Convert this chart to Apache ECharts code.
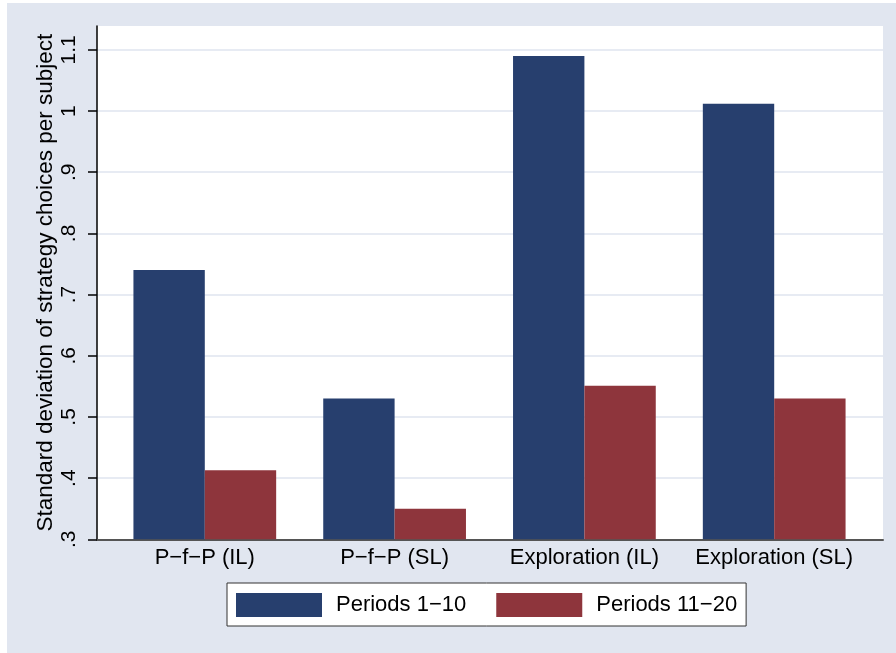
<!DOCTYPE html>
<html>
<head>
<meta charset="utf-8">
<script src="https://cdn.jsdelivr.net/npm/echarts@6/dist/echarts.min.js"></script>
<style>
  html, body { margin: 0; padding: 0; background: #ffffff; }
  #bg { position: absolute; left: 7px; top: 3px; width: 889px; height: 650px; background: #e1e6f0; }
  #chart { position: absolute; left: 0; top: 0; width: 896px; height: 653px; }
</style>
</head>
<body>
<div id="bg"></div>
<div id="chart"></div>
<script>
const categories = ['P\u2212f\u2212P (IL)', 'P\u2212f\u2212P (SL)', 'Exploration (IL)', 'Exploration (SL)'];
const seriesNames = ['Periods 1\u221210', 'Periods 11\u221220'];
const periods1to10 = [0.74, 0.53, 1.09, 1.012];
const periods11to20 = [0.413, 0.35, 0.551, 0.53];
const yTicks = [0.3, 0.4, 0.5, 0.6, 0.7, 0.8, 0.9, 1.0, 1.1];
const yTickLabels = ['.3', '.4', '.5', '.6', '.7', '.8', '.9', '1', '1.1'];
const yAxisTitle = 'Standard deviation of strategy choices per subject';

const FONT = "'Liberation Sans', Arial, Helvetica, sans-serif";
const yMin = 0.3, yMax = 1.139;

const chart = echarts.init(document.getElementById('chart'), null, { renderer: 'canvas' });
chart.setOption({
  backgroundColor: 'transparent',
  animation: false,
  textStyle: { fontFamily: FONT, color: '#000' },
  grid: [
    { left: 97, right: 13, top: 26, bottom: 113.7, show: true, backgroundColor: '#ffffff', borderWidth: 0 },
    { left: 109.9, right: 26.9, top: 26, bottom: 113.7, show: false }
  ],
  xAxis: [
    {
      gridIndex: 0, type: 'value', min: 0, max: 1,
      axisLine: { show: true, onZero: false, lineStyle: { color: '#555', width: 2 } },
      axisTick: { show: false }, axisLabel: { show: false }, splitLine: { show: false }
    },
    {
      gridIndex: 1, type: 'category', data: categories,
      axisLine: { show: false }, axisTick: { show: false },
      axisLabel: { interval: 0, fontFamily: FONT, fontSize: 22, color: '#000', margin: 8 }
    }
  ],
  yAxis: [
    {
      gridIndex: 0, type: 'value', min: yMin, max: yMax, interval: 0.1,
      name: yAxisTitle, nameLocation: 'middle', nameRotate: 90, nameGap: 40,
      nameMoveOverlap: false,
      nameTextStyle: { fontFamily: FONT, fontSize: 22.5, color: '#000' },
      axisLine: { show: true, lineStyle: { color: '#000', width: 1.5 } },
      axisTick: { show: true, length: 9, customValues: yTicks, lineStyle: { color: '#000', width: 1.5 } },
      axisLabel: {
        rotate: 90, fontFamily: FONT, fontSize: 21, color: '#000', margin: 17,
        customValues: yTicks,
        formatter: function (v) {
          const i = yTicks.findIndex(t => Math.abs(t - v) < 1e-6);
          return i >= 0 ? yTickLabels[i] : '';
        }
      },
      splitLine: { show: true, lineStyle: { color: '#dfe4ef', width: 1.5 } }
    },
    {
      gridIndex: 1, type: 'value', min: yMin, max: yMax, show: false,
      splitLine: { show: false }
    }
  ],
  legend: {
    data: seriesNames,
    left: 227, top: 583,
    orient: 'horizontal',
    icon: 'rect',
    itemWidth: 86, itemHeight: 24, itemGap: 30,
    padding: [10, 9, 9, 9],
    backgroundColor: '#ffffff', borderColor: '#333', borderWidth: 1,
    textStyle: { fontFamily: FONT, fontSize: 22, color: '#000', padding: [0, 0, 0, 9] }
  },
  series: [
    {
      name: seriesNames[0], type: 'bar', xAxisIndex: 1, yAxisIndex: 1,
      data: periods1to10, barGap: '0%', barCategoryGap: '24.8%',
      itemStyle: { color: '#273f6e' }
    },
    {
      name: seriesNames[1], type: 'bar', xAxisIndex: 1, yAxisIndex: 1,
      data: periods11to20, barGap: '0%', barCategoryGap: '24.8%',
      itemStyle: { color: '#8e353c' }
    }
  ]
});
</script>
</body>
</html>
